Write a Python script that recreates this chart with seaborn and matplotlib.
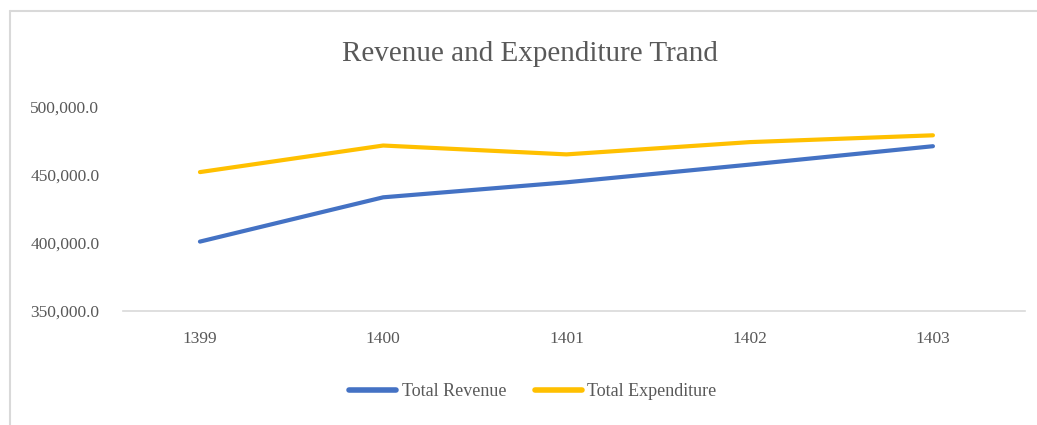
import pandas as pd
import seaborn as sns
import matplotlib.pyplot as plt
from matplotlib.lines import Line2D

years = ["1399", "1400", "1401", "1402", "1403"]
total_revenue = [401000, 433500, 444500, 457500, 471000]
total_expenditure = [452000, 471500, 465000, 474000, 479000]

df = pd.DataFrame({
    "year": years * 2,
    "value": total_revenue + total_expenditure,
    "series": ["Total Revenue"] * len(years) + ["Total Expenditure"] * len(years),
})

sns.set_style("white")
plt.rcParams['font.family'] = ['Liberation Serif', 'DejaVu Serif']
grey = "#595959"
palette = {"Total Revenue": "#4472C4", "Total Expenditure": "#FFC000"}

fig = plt.figure(figsize=(10.37, 4.25), dpi=100)
ax = fig.add_axes([0.1186, 0.268, 0.8694, 0.497])

sns.lineplot(data=df, x="year", y="value", hue="series", palette=palette,
             linewidth=3, sort=False, legend=False, ax=ax,
             solid_capstyle="round")

ax.set_xlim(-0.42, 4.5)
ax.set_ylim(350000, 505000)
ax.set_yticks([350000, 400000, 450000, 500000])
ax.set_yticklabels([f"{v:,.1f}" for v in [350000, 400000, 450000, 500000]])
ax.set_xlabel("")
ax.set_ylabel("")
for s in ["top", "right", "left"]:
    ax.spines[s].set_visible(False)
ax.spines["bottom"].set_color("#d9d9d9")
ax.spines["bottom"].set_linewidth(1.2)
ax.tick_params(axis="both", length=0, labelsize=12.5, colors=grey)
ax.tick_params(axis="x", pad=14)
for lbl in ax.get_yticklabels():
    lbl.set_horizontalalignment("left")
    lbl.set_x(-0.0975)

fig.text(0.511, 0.872, "Revenue and Expenditure Trand", ha="center", va="center",
         fontsize=21, color=grey)

handles = [Line2D([], [], color=palette[k], lw=4, solid_capstyle="round") for k in palette]
fig.legend(handles, list(palette), loc="center", bbox_to_anchor=(0.514, 0.078),
           ncol=2, frameon=False, fontsize=13, labelcolor=grey,
           handlelength=2.6, handletextpad=0.3, columnspacing=1.6)

# chart-area border (cropped on the right and bottom)
border = dict(color="#d9d9d9", lw=1.5, transform=fig.transFigure)
fig.add_artist(Line2D([10 / 1037, 1.0], [1 - 11 / 425] * 2, **border))
fig.add_artist(Line2D([10 / 1037] * 2, [0.0, 1 - 11 / 425], **border))

plt.savefig("out.png", dpi=100)
